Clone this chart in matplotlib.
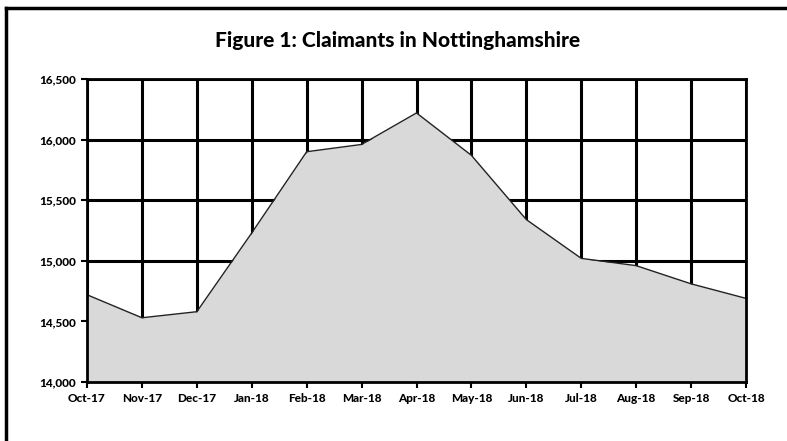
import matplotlib
matplotlib.use("Agg")
import matplotlib.pyplot as plt
from matplotlib.lines import Line2D

months = ["Oct-17", "Nov-17", "Dec-17", "Jan-18", "Feb-18", "Mar-18", "Apr-18",
          "May-18", "Jun-18", "Jul-18", "Aug-18", "Sep-18", "Oct-18"]
claimants = [14720, 14530, 14580, 15230, 15900, 15960, 16220,
             15870, 15340, 15020, 14960, 14810, 14690]
y_ticks = [14000, 14500, 15000, 15500, 16000, 16500]
y_labels = ["14,000", "14,500", "15,000", "15,500", "16,000", "16,500"]
title = "Figure 1: Claimants in Nottinghamshire"

plt.rcParams['font.family'] = ['Lato', 'DejaVu Sans']

fig = plt.figure(figsize=(7.87, 4.41), dpi=100)
ax = fig.add_axes([87/787, 1-382/441, (746-87)/787, (382-79)/441])

x = list(range(len(months)))
ax.fill_between(x, 14000, claimants, color="#d9d9d9", zorder=3, linewidth=0)
ax.plot(x, claimants, color="#222222", linewidth=1.0, zorder=4)

ax.set_xlim(0, len(months)-1)
ax.set_ylim(14000, 16500)
ax.set_xticks(x)
ax.set_xticklabels(months, fontsize=8.5, fontweight="black")
ax.set_yticks(y_ticks)
ax.set_yticklabels(y_labels, fontsize=8.5, fontweight="black")
ax.grid(True, color="black", linewidth=2.2, zorder=1)
ax.set_axisbelow(True)
for s in ax.spines.values():
    s.set_linewidth(2.0)
    s.set_color("black")
    s.set_zorder(5)
ax.tick_params(axis="both", direction="out", length=4, width=1.5, colors="black", pad=4)

fig.text(398/787, 1-40/441, title, ha="center", va="center", fontsize=15, fontweight="black")

# outer frame (top and left visible)
fig.add_artist(Line2D([6/787, 1.0], [1-8/441, 1-8/441], transform=fig.transFigure, color="black", linewidth=2.5))
fig.add_artist(Line2D([6/787, 6/787], [0.0, 1-8/441], transform=fig.transFigure, color="black", linewidth=2.5))

fig.savefig("out.png", dpi=100)
